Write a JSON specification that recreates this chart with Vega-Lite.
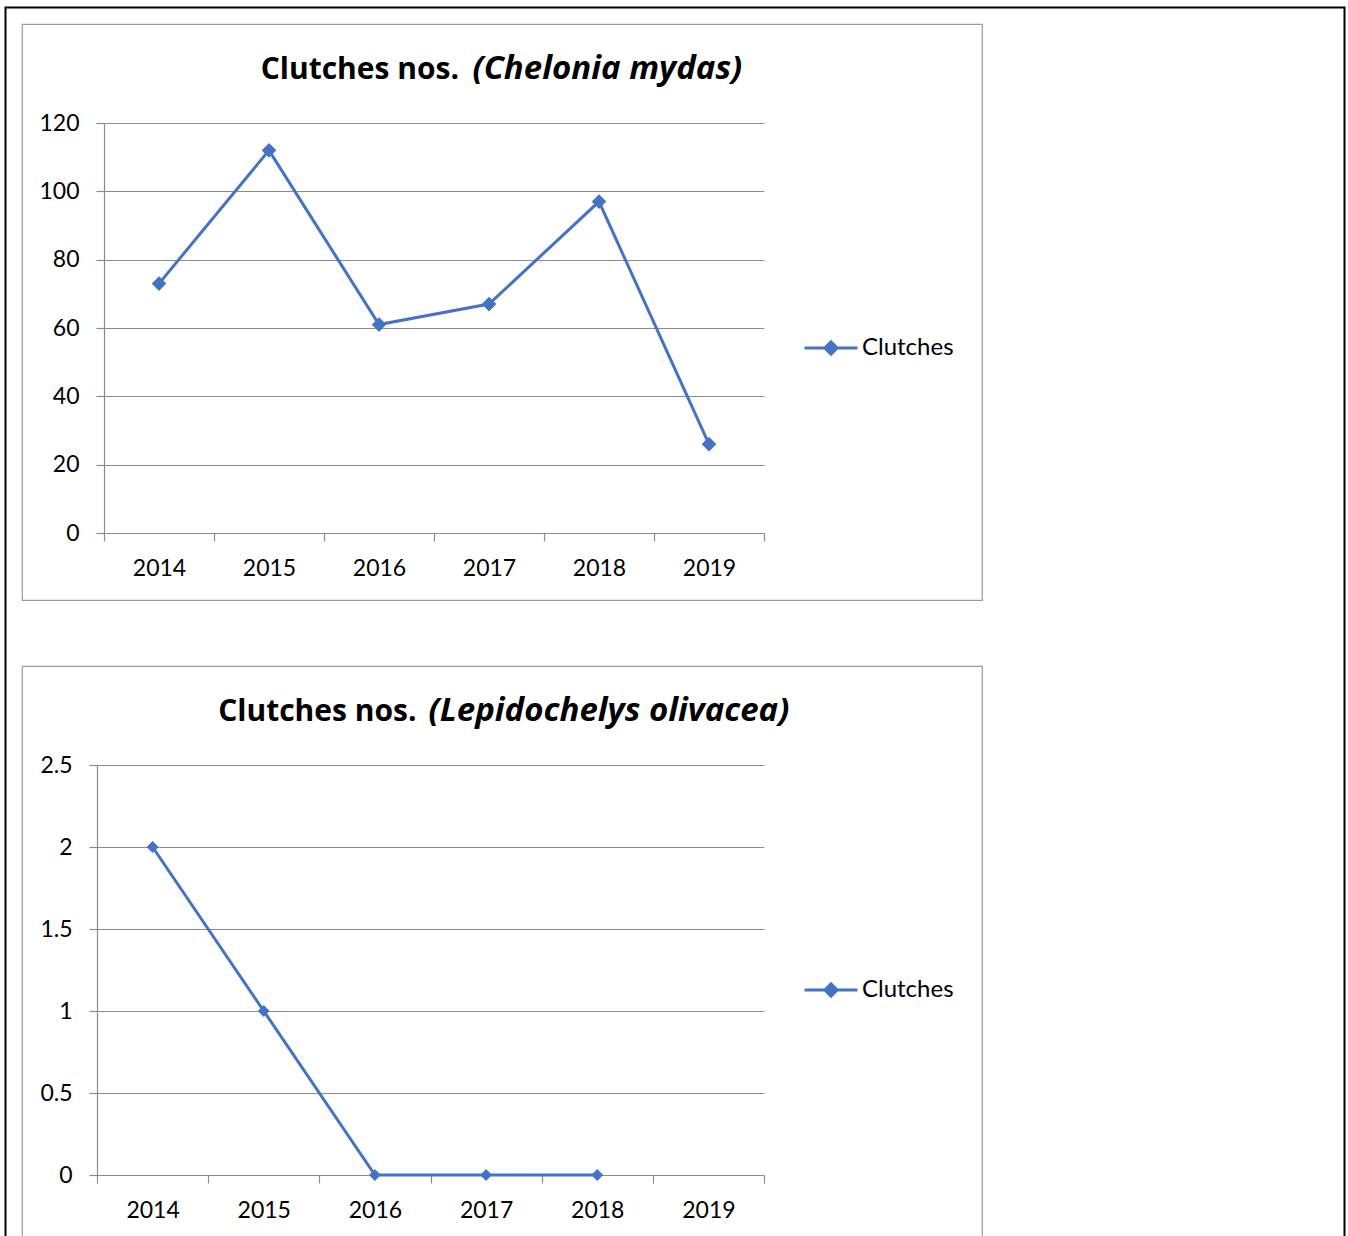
{
  "$schema": "https://vega.github.io/schema/vega-lite/v6.json",
  "background": "white",
  "padding": {"left": 4, "top": 6, "right": 0, "bottom": 0},
  "spacing": 64,
  "datasets": {
    "mydas": [
      {"year": "2014", "clutches": 73, "series": "Clutches"},
      {"year": "2015", "clutches": 112, "series": "Clutches"},
      {"year": "2016", "clutches": 61, "series": "Clutches"},
      {"year": "2017", "clutches": 67, "series": "Clutches"},
      {"year": "2018", "clutches": 97, "series": "Clutches"},
      {"year": "2019", "clutches": 26, "series": "Clutches"}
    ],
    "olivacea": [
      {"year": "2014", "clutches": 2, "series": "Clutches"},
      {"year": "2015", "clutches": 1, "series": "Clutches"},
      {"year": "2016", "clutches": 0, "series": "Clutches"},
      {"year": "2017", "clutches": 0, "series": "Clutches"},
      {"year": "2018", "clutches": 0, "series": "Clutches"},
      {"year": "2019", "clutches": null, "series": "Clutches"}
    ]
  },
  "resolve": {"scale": {"color": "independent"}, "legend": {"color": "independent"}},
  "vconcat": [
    {
      "width": 960,
      "height": 576,
      "data": {"name": "mydas"},
      "layer": [
        {
          "mark": {"type": "line", "strokeWidth": 3},
          "encoding": {
            "x": {
              "field": "year", "type": "ordinal",
              "scale": {"type": "band", "domain": ["2014", "2015", "2016", "2017", "2018", "2019"], "range": [82, 742], "paddingInner": 0, "paddingOuter": 0},
              "axis": {"orient": "bottom", "offset": -67, "tickBand": "extent", "grid": false, "title": null, "labelAngle": 0, "labelBaseline": "alphabetic", "labelPadding": 34}
            },
            "y": {
              "field": "clutches", "type": "quantitative",
              "scale": {"domain": [0, 120], "range": [509, 99], "nice": false},
              "axis": {"orient": "left", "offset": -82, "values": [0, 20, 40, 60, 80, 100, 120], "grid": true, "title": null, "labelPadding": 17}
            },
            "color": {
              "field": "series", "type": "nominal",
              "scale": {"range": ["#4472C4"]},
              "legend": {"orient": "none", "legendX": 781, "legendY": 296, "title": null, "padding": 0,
                "symbolType": "M-1,0H1M-0.23,0L0,-0.23L0.23,0L0,0.23Z", "symbolSize": 2809, "symbolStrokeWidth": 3,
                "symbolStrokeColor": "#4472C4", "symbolFillColor": "#4472C4", "symbolOpacity": 1,
                "labelFontSize": 24, "labelFont": "Lato", "labelColor": "black", "labelOffset": 3}
            }
          }
        },
        {
          "mark": {"type": "point", "shape": "diamond", "filled": true, "size": 140, "opacity": 1},
          "encoding": {
            "x": {
              "field": "year", "type": "ordinal",
              "axis": {"orient": "top", "title": "(Chelonia mydas)", "domain": false, "ticks": false, "labels": false, "grid": false,
                "titleX": 450, "titleY": 54, "titleAlign": "left", "titleBaseline": "alphabetic", "titleFontSize": 33,
                "titleFontStyle": "italic", "titleFontWeight": "bold", "titleColor": "black", "titleFont": "Open Sans"}
            },
            "y": {
              "field": "clutches", "type": "quantitative",
              "axis": {"orient": "right", "title": "Clutches nos.", "domain": false, "ticks": false, "labels": false, "grid": false,
                "titleX": -523.5, "titleY": 54, "titleAngle": 0, "titleAlign": "right", "titleBaseline": "alphabetic", "titleFontSize": 30,
                "titleFontWeight": "bold", "titleColor": "black", "titleFont": "Open Sans"}
            },
            "color": {"field": "series", "type": "nominal"},
            "stroke": {
              "field": "clutches", "type": "quantitative",
              "scale": {"range": ["#4472C4", "#4472C4"]},
              "legend": {"orient": "none", "legendX": -16.5, "legendY": -16.5, "title": null, "type": "gradient", "direction": "vertical",
                "gradientLength": 100, "gradientThickness": 1, "gradientOpacity": 0, "gradientStrokeWidth": 0,
                "labelExpr": "''", "labelOffset": 0, "labelOpacity": 0,
                "padding": 669, "strokeColor": "black",
                "encode": {"legend": {"update": {"strokeWidth": {"value": 2}}}, "gradient": {"update": {"opacity": {"value": 0}}}}}
            }
          }
        }
      ]
    },
    {
      "width": 960,
      "height": 576,
      "data": {"name": "olivacea"},
      "layer": [
        {
          "mark": {"type": "line", "strokeWidth": 3},
          "encoding": {
            "x": {
              "field": "year", "type": "ordinal",
              "scale": {"type": "band", "domain": ["2014", "2015", "2016", "2017", "2018", "2019"], "range": [75, 742], "paddingInner": 0, "paddingOuter": 0},
              "axis": {"orient": "bottom", "offset": -67, "tickBand": "extent", "grid": false, "title": null, "labelAngle": 0, "labelBaseline": "alphabetic", "labelPadding": 34}
            },
            "y": {
              "field": "clutches", "type": "quantitative",
              "scale": {"domain": [0, 2.5], "range": [509, 99], "nice": false},
              "axis": {"orient": "left", "offset": -75, "values": [0, 0.5, 1, 1.5, 2, 2.5], "format": "~g", "grid": true, "title": null, "labelPadding": 17}
            },
            "color": {
              "field": "series", "type": "nominal",
              "scale": {"range": ["#4472C4"]},
              "legend": {"orient": "none", "legendX": 781, "legendY": 296, "title": null, "padding": 0,
                "symbolType": "M-1,0H1M-0.23,0L0,-0.23L0.23,0L0,0.23Z", "symbolSize": 2809, "symbolStrokeWidth": 3,
                "symbolStrokeColor": "#4472C4", "symbolFillColor": "#4472C4", "symbolOpacity": 1,
                "labelFontSize": 24, "labelFont": "Lato", "labelColor": "black", "labelOffset": 3}
            }
          }
        },
        {
          "mark": {"type": "point", "shape": "diamond", "filled": true, "size": 140, "opacity": 1},
          "encoding": {
            "x": {
              "field": "year", "type": "ordinal",
              "axis": {"orient": "top", "title": "(Lepidochelys olivacea)", "domain": false, "ticks": false, "labels": false, "grid": false,
                "titleX": 406, "titleY": 54, "titleAlign": "left", "titleBaseline": "alphabetic", "titleFontSize": 33,
                "titleFontStyle": "italic", "titleFontWeight": "bold", "titleColor": "black", "titleFont": "Open Sans"}
            },
            "y": {
              "field": "clutches", "type": "quantitative",
              "axis": {"orient": "right", "title": "Clutches nos.", "domain": false, "ticks": false, "labels": false, "grid": false,
                "titleX": -566, "titleY": 54, "titleAngle": 0, "titleAlign": "right", "titleBaseline": "alphabetic", "titleFontSize": 30,
                "titleFontWeight": "bold", "titleColor": "black", "titleFont": "Open Sans"}
            },
            "color": {"field": "series", "type": "nominal"}
          }
        }
      ]
    }
  ],
  "config": {
    "font": "Lato",
    "view": {"stroke": "#9a9a9a", "strokeWidth": 1.2},
    "axis": {
      "domainColor": "#8c8c8c",
      "tickColor": "#8c8c8c",
      "gridColor": "#8c8c8c",
      "gridOpacity": 1,
      "domainWidth": 1.2,
      "tickWidth": 1.2,
      "gridWidth": 1.2,
      "tickSize": 8,
      "labelFont": "Lato",
      "labelFontSize": 23,
      "labelColor": "black"
    }
  }
}
